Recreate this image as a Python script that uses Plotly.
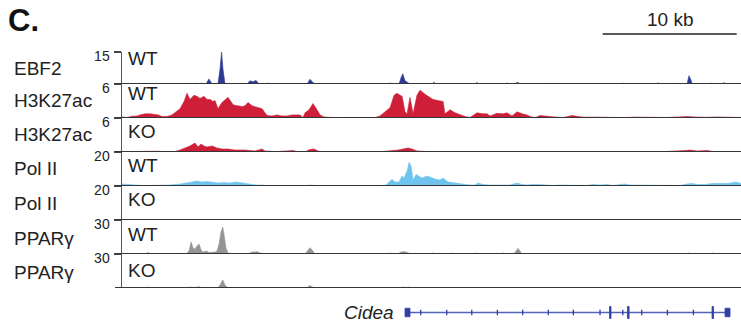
import plotly.graph_objects as go

# ---------------- data (positions in kb from the left edge of the region) ----------------
REGION_KB = 46.19

EBF2_WT_POS = [0, 1.64, 1.79, 1.94, 4.85, 5.0, 5.15, 5.45, 5.6, 5.75, 5.97, 6.12, 6.27, 6.49, 6.72,
               7.16, 7.31, 7.43, 7.54, 7.69, 9.33, 9.55, 9.78, 10.0, 10.22, 10.75, 10.9, 11.04,
               13.81, 14.03, 14.25, 14.4, 19.85, 20.0, 20.15, 20.67, 20.82, 20.95, 21.12, 21.34, 21.49,
               23.13, 23.28, 23.43, 26.34, 26.49, 26.64, 28.58, 28.73, 28.88, 29.33, 29.48, 29.7, 29.78,
               31.94, 32.09, 32.24, 37.24, 37.39, 37.54, 39.78, 40.0, 40.22, 41.42, 41.49, 41.64,
               42.16, 42.24, 42.31, 42.46, 42.54, 43.81, 43.96, 44.1, 44.7, 44.93, 45.15,
               45.82, 45.9, 46.04, 46.19]
EBF2_WT_VAL = [0, 0, 0.4, 0, 0, 0.4, 0, 0, 0.4, 0, 0.4, 0, 0, 2.4, 0,
               0, 6.8, 15, 6.8, 0, 0, 1.5, 1.0, 1.7, 0, 0, 0.5, 0,
               0, 2.2, 0.7, 0, 0, 0.5, 0, 0, 2.9, 4.8, 1.5, 0.7, 0,
               0, 0.8, 0, 0, 0.7, 0, 0, 0.5, 0, 0, 0.8, 0.4, 0,
               0, 0.4, 0, 0, 0.4, 0, 0, 0.5, 0, 0, 0.4, 0,
               0, 2.9, 3.9, 1.9, 0, 0, 0.4, 0, 0, 0.6, 0,
               0, 0.4, 0, 0]

H3K27AC_WT_POS = [0, 0.37, 0.75, 1.12, 1.34, 1.72, 2.09, 2.46, 2.69, 2.99, 3.36, 3.73, 4.03, 4.33, 4.63,
                  4.85, 5.07, 5.37, 5.60, 5.82, 6.12, 6.34, 6.57, 6.79, 6.94, 7.16, 7.46, 7.69, 7.91, 8.13,
                  8.28, 8.51, 8.66, 8.96, 9.18, 9.40, 9.70, 9.93, 10.22, 10.45, 10.67, 10.82, 11.19, 11.57,
                  11.94, 12.31, 12.69, 12.99, 13.28, 13.51, 13.66, 13.96, 14.25, 14.55, 14.78, 15.07, 15.37,
                  15.90, 16.64, 17.39, 18.13, 18.88, 19.25, 19.63, 20.00, 20.30, 20.52, 20.75, 20.90, 21.12,
                  21.27, 21.49, 21.72, 22.01, 22.24, 22.61, 22.84, 23.21, 23.58, 23.96, 24.10, 24.48, 24.85,
                  25.22, 25.60, 25.97, 26.49, 26.94, 27.24, 27.46, 27.99, 28.43, 28.73, 29.10, 29.48, 29.85,
                  30.22, 30.45, 30.82, 31.19, 31.57, 32.09, 32.46, 32.84, 33.28, 33.58, 34.03, 34.55, 35.30,
                  36.04, 36.79, 37.54, 38.28, 39.03, 39.78, 40.52, 41.27, 42.16, 42.76, 43.51, 44.40, 45.00,
                  45.75, 46.19]
H3K27AC_WT_VAL = [0.18, 0.09, 0.31, 0.36, 0.55, 0.73, 0.73, 0.64, 0.55, 0.27, 0.27, 0.55, 1.09, 1.64, 2.91,
                  4.37, 3.28, 4.0, 3.82, 3.46, 3.82, 3.28, 3.28, 2.91, 3.09, 1.64, 2.73, 3.28, 3.64, 2.91,
                  2.37, 2.18, 2.18, 2.0, 2.18, 2.73, 2.18, 2.0, 1.82, 1.64, 0.91, 0.45, 0.36, 0.55,
                  0.36, 0.36, 0.55, 0.55, 0.55, 0.09, 0.91, 1.46, 2.55, 1.46, 0.55, 0.18, 0.09,
                  0.05, 0.09, 0.05, 0.07, 0.09, 0.36, 1.09, 1.82, 4.0, 4.37, 4.0, 3.82, 1.09,
                  0.73, 3.64, 0.73, 4.0, 4.91, 4.19, 3.82, 3.28, 3.09, 2.91, 0.73, 1.46, 0.91,
                  0.55, 0.27, 0.09, 0.91, 0.73, 0.73, 0.36, 0.82, 0.73, 0.91, 0.36, 1.09, 0.73,
                  0.55, 0.27, 0.05, 0.45, 0.36, 0.36, 0.27, 0.05, 0.27, 0.45, 0.27, 0.13, 0.15,
                  0.09, 0.11, 0.07, 0.15, 0.13, 0.05, 0.09, 0.15, 0.27, 0.18, 0.11, 0.18, 0.11,
                  0.15, 0.09]

H3K27AC_KO_POS = [0, 0.97, 1.49, 2.09, 2.69, 3.21, 3.96, 4.33, 4.70, 5.07, 5.45, 5.67, 5.90, 6.12, 6.34,
                  6.72, 7.09, 7.46, 7.91, 8.43, 9.18, 9.93, 10.45, 10.67, 11.42, 12.76, 13.13, 13.66,
                  14.03, 14.33, 14.63, 14.93, 16.27, 19.25, 20.60, 20.90, 21.34, 21.64, 22.01, 22.61,
                  23.51, 24.48, 26.72, 28.81, 29.70, 32.69, 35.67, 40.15, 42.01, 42.39, 42.91, 43.66,
                  44.25, 45.90, 46.19]
H3K27AC_KO_VAL = [0.05, 0.09, 0.18, 0.21, 0.14, 0.05, 0.09, 0.35, 0.70, 1.06, 1.58, 0.88, 1.41, 1.06, 0.88,
                  1.06, 0.70, 0.53, 0.53, 0.35, 0.35, 0.18, 0.53, 0.18, 0.05, 0.26, 0.05, 0.05,
                  0.44, 0.53, 0.18, 0.04, 0.04, 0.04, 0.35, 0.53, 0.70, 0.53, 0.18, 0.09,
                  0.09, 0.04, 0.09, 0.09, 0.09, 0.04, 0.04, 0.04, 0.26, 0.35, 0.18, 0.26,
                  0.05, 0.09, 0.05]

POL2_WT_POS = [0, 0.37, 0.75, 1.19, 1.49, 2.09, 2.84, 3.58, 4.33, 4.93, 5.22, 5.60, 5.97, 6.34, 6.72,
               7.16, 7.61, 8.06, 8.51, 8.96, 9.40, 9.70, 10.0, 10.45, 10.75, 11.79, 12.69, 12.99, 13.66,
               13.96, 14.18, 14.40, 16.27, 18.51, 19.40, 19.70, 20.00, 20.15, 20.37, 20.67, 20.90, 21.04,
               21.27, 21.42, 21.57, 21.72, 21.94, 22.09, 22.39, 22.76, 23.13, 23.36, 23.73, 23.96, 24.33,
               24.70, 25.07, 25.37, 25.67, 25.97, 26.34, 26.57, 26.94, 27.46, 27.99, 28.43, 28.96, 29.48,
               29.85, 30.22, 30.60, 31.19, 31.79, 32.16, 32.69, 33.43, 34.18, 34.63, 35.15, 35.67, 36.19,
               36.64, 37.16, 37.54, 37.91, 38.66, 39.40, 40.15, 40.52, 41.64, 42.16, 42.54, 42.91, 43.51,
               44.03, 44.40, 44.78, 45.22, 45.60, 45.82, 46.04, 46.19]
POL2_WT_VAL = [1.18, 0.88, 0.88, 0.59, 0.29, 0.29, 0.29, 0.59, 1.18, 1.76, 2.35, 2.94, 2.35, 2.65, 2.06,
               1.76, 2.06, 1.76, 2.35, 1.76, 1.47, 1.18, 0.59, 0.59, 0.18, 0.18, 0.41, 0.18, 0.18,
               0.59, 0.59, 0.18, 0.12, 0.18, 0.29, 0.59, 2.94, 3.94, 2.35, 2.35, 5.88, 4.70,
               8.82, 13.9, 11.8, 3.53, 6.70, 5.88, 4.70, 5.88, 4.70, 4.12, 3.53, 4.70, 2.35,
               2.06, 1.76, 1.18, 0.88, 0.59, 0.59, 1.76, 0.88, 0.59, 0.59, 0.88, 0.59, 1.76,
               0.88, 0.59, 0.88, 0.88, 0.59, 0.29, 0.59, 0.59, 0.59, 0.29, 0.88, 0.59, 0.88,
               0.29, 0.88, 1.18, 0.59, 0.59, 0.59, 0.59, 0.18, 0.29, 1.18, 1.47, 0.88, 0.88,
               1.47, 1.47, 1.18, 1.47, 2.06, 2.35, 1.76, 1.47]

POL2_KO_POS = [0, 21.27, 21.42, 21.57, 46.19]
POL2_KO_VAL = [0, 0, 0.3, 0, 0]

PPARG_WT_POS = [0, 1.72, 1.94, 2.16, 3.96, 4.10, 4.33, 4.78, 5.00, 5.15, 5.30, 5.45, 5.60, 5.75, 5.90,
                6.04, 6.19, 6.34, 6.49, 6.64, 6.79, 6.94, 7.09, 7.24, 7.39, 7.52, 7.61, 7.76, 7.91, 8.21,
                9.40, 9.55, 9.70, 9.93, 10.07, 10.30, 10.52, 10.75, 13.66, 13.81, 14.03, 14.25, 14.40,
                19.70, 20.00, 20.22, 20.60, 20.75, 20.97, 21.19, 21.34, 21.57, 22.99, 23.21, 23.43,
                24.48, 24.63, 24.78, 26.19, 26.34, 26.57, 28.21, 28.43, 28.66, 29.25, 29.40, 29.55,
                29.70, 29.85, 42.09, 42.31, 42.54, 43.88, 44.10, 44.33, 46.19]
PPARG_WT_VAL = [0, 0, 1.3, 0, 0, 0.6, 0, 0, 2.6, 10.6, 5.3, 4.4, 7.1, 8.8, 3.5,
                1.8, 2.2, 2.6, 1.3, 1.3, 1.8, 1.8, 2.6, 8.8, 19.4, 23.8, 17.6, 5.3, 0.9, 0,
                0, 0.9, 1.8, 1.8, 2.2, 0.9, 0.4, 0, 0, 2.6, 5.6, 2.6, 0,
                0, 0.9, 0, 0, 1.3, 2.2, 1.8, 1.3, 0, 0, 0.9, 0,
                0, 0.9, 0, 0, 0.9, 0, 0, 0.9, 0, 0, 2.6, 5.0,
                2.6, 0, 0, 0.9, 0, 0, 0.9, 0, 0]

PPARG_KO_POS = [0, 1.79, 1.94, 2.09, 4.78, 5.07, 5.37, 5.75, 6.04, 7.16, 7.31, 7.52, 7.69, 7.91,
                13.73, 14.03, 14.33, 20.75, 20.97, 21.19, 21.42, 21.64, 42.09, 42.31, 42.54,
                43.58, 43.81, 44.03, 45.75, 45.90, 46.04, 46.19]
PPARG_KO_VAL = [0, 0, 0.9, 0, 0, 0.9, 0.4, 1.1, 0, 0, 2.6, 7.1, 2.6, 0,
                0, 2.2, 0, 0, 0.9, 0.4, 0.9, 0, 0, 0.4, 0,
                0, 0.6, 0, 0, 0.4, 0, 0]

TRACK_NAMES = ["EBF2", "H3K27ac", "H3K27ac", "Pol II", "Pol II", "PPARγ", "PPARγ"]
TRACK_CONDITIONS = ["WT", "WT", "KO", "WT", "KO", "WT", "KO"]
TRACK_MAX = [15, 6, 6, 20, 20, 30, 30]
TRACK_POS = [EBF2_WT_POS, H3K27AC_WT_POS, H3K27AC_KO_POS, POL2_WT_POS, POL2_KO_POS, PPARG_WT_POS, PPARG_KO_POS]
TRACK_VAL = [EBF2_WT_VAL, H3K27AC_WT_VAL, H3K27AC_KO_VAL, POL2_WT_VAL, POL2_KO_VAL, PPARG_WT_VAL, PPARG_KO_VAL]

# Cidea gene model (kb)
GENE_NAME = "Cidea"
GENE_START, GENE_END = 21.12, 45.37
EXON_STARTS = [21.12, 36.38, 37.72, 44.03, 45.00]
EXON_ENDS = [21.49, 36.49, 37.84, 44.14, 45.37]
INTRON_ARROWS = [22.29, 24.23, 26.10, 28.01, 29.90, 31.81, 33.68, 35.67, 37.37, 38.78, 40.70, 42.64]
SCALE_BAR_START, SCALE_BAR_KB = 35.87, 10

# ---------------- styling / layout ----------------
W, H = 741, 326
X0 = 122
BOUNDS = [52, 84, 118, 152, 186, 220, 254, 288]
COLORS = ["#2d3a95", "#cf1e38", "#cf1e38", "#6ec4ee", "#6ec4ee", "#959595", "#959595"]
NAME_Y = [68, 100, 134.5, 168.5, 203, 238, 272.5]
COND_Y = [58.5, 93.5, 131.5, 166, 199.7, 235, 270]
FONT = "Arial, Liberation Sans, sans-serif"
TXT = "#222222"
GENE_COLOR = "#2f3fa6"


def py(px):
    return 1 - px / H


def px_x(px):
    return px / W


for p, v in zip(TRACK_POS, TRACK_VAL):
    assert len(p) == len(v), (len(p), len(v))

fig = go.Figure()
layout = dict(
    width=W, height=H, margin=dict(l=0, r=0, t=0, b=0, autoexpand=False),
    paper_bgcolor="white", plot_bgcolor="white", showlegend=False, hovermode=False,
    font=dict(family=FONT, color=TXT),
    xaxis=dict(domain=[px_x(X0), 1], range=[0, REGION_KB], visible=False, fixedrange=True),
)
annotations = []
shapes = []

for i in range(7):
    yname = "y" if i == 0 else f"y{i + 1}"
    lname = "yaxis" if i == 0 else f"yaxis{i + 1}"
    fig.add_trace(go.Scatter(
        x=TRACK_POS[i], y=TRACK_VAL[i], xaxis="x", yaxis=yname, mode="lines",
        line=dict(color=COLORS[i], width=0.6), fill="tozeroy", fillcolor=COLORS[i],
    ))
    layout[lname] = dict(
        domain=[py(BOUNDS[i + 1]), py(BOUNDS[i])], range=[0, TRACK_MAX[i]], anchor="x",
        showgrid=False, zeroline=False, showline=True, linecolor="#555555", linewidth=1.5,
        ticks="outside", ticklen=7, tickwidth=1.5, tickcolor="#444444",
        tickvals=[TRACK_MAX[i]], ticktext=[str(TRACK_MAX[i])],
        tickfont=dict(size=14, family=FONT, color=TXT), ticklabelshift=4, ticklabelstandoff=1,
        fixedrange=True, automargin=False,
    )
    shapes.append(dict(type="line", xref="paper", yref=yname, x0=px_x(115), x1=1, y0=0, y1=0,
                       line=dict(color="#353535", width=2), layer="above"))
    annotations.append(dict(text=TRACK_NAMES[i], xref="paper", yref="paper", x=px_x(12), y=py(NAME_Y[i]),
                            xanchor="left", yanchor="middle", showarrow=False,
                            font=dict(size=19, family=FONT, color=TXT)))
    annotations.append(dict(text=TRACK_CONDITIONS[i], xref="paper", yref="paper", x=px_x(126), y=py(COND_Y[i]),
                            xanchor="left", yanchor="middle", showarrow=False,
                            font=dict(size=19, family=FONT, color=TXT)))

# gene track
layout["yaxis8"] = dict(domain=[py(325), py(300)], range=[-1, 1], anchor="x", visible=False, fixedrange=True)
fig.add_trace(go.Scatter(x=[GENE_START, GENE_END], y=[0, 0], xaxis="x", yaxis="y8", mode="lines",
                         line=dict(color="#5563bd", width=1.3)))
fig.add_trace(go.Scatter(x=INTRON_ARROWS, y=[0] * len(INTRON_ARROWS), xaxis="x", yaxis="y8", mode="markers",
                         marker=dict(symbol="line-ns-open", size=4, color=GENE_COLOR,
                                     line=dict(color=GENE_COLOR, width=1.3))))
for k, (s, e) in enumerate(zip(EXON_STARTS, EXON_ENDS)):
    hh = 0.34 if k in (0, len(EXON_STARTS) - 1) else 0.48
    shapes.append(dict(type="rect", xref="x", yref="y8", x0=s, x1=e, y0=-hh, y1=hh,
                       fillcolor=GENE_COLOR, line=dict(color=GENE_COLOR, width=0.8)))
annotations.append(dict(text=f"<i>{GENE_NAME}</i>", xref="paper", yref="paper", x=px_x(396), y=py(312),
                        xanchor="right", yanchor="middle", showarrow=False,
                        font=dict(size=19, family=FONT, color=TXT)))

# scale bar
shapes.append(dict(type="line", xref="x", yref="paper", x0=SCALE_BAR_START, x1=SCALE_BAR_START + SCALE_BAR_KB,
                   y0=py(34), y1=py(34), line=dict(color="#222222", width=1.5)))
annotations.append(dict(text=f"{SCALE_BAR_KB} kb", xref="x", yref="paper", x=SCALE_BAR_START + SCALE_BAR_KB / 2,
                        y=py(19.5), xanchor="center", yanchor="middle", showarrow=False,
                        font=dict(size=19, family=FONT, color=TXT)))

# panel letter
annotations.append(dict(text="<b>C.</b>", xref="paper", yref="paper", x=px_x(6), y=py(21),
                        xanchor="left", yanchor="middle", showarrow=False,
                        font=dict(size=31, family=FONT, color="#111111")))

layout["annotations"] = annotations
layout["shapes"] = shapes
fig.update_layout(**layout)
fig.write_html(
    "out.html",
    config={"displayModeBar": False, "staticPlot": True},
    post_script="document.body.style.margin='0';document.body.style.padding='0';"
                "document.body.style.overflow='hidden';",
)
